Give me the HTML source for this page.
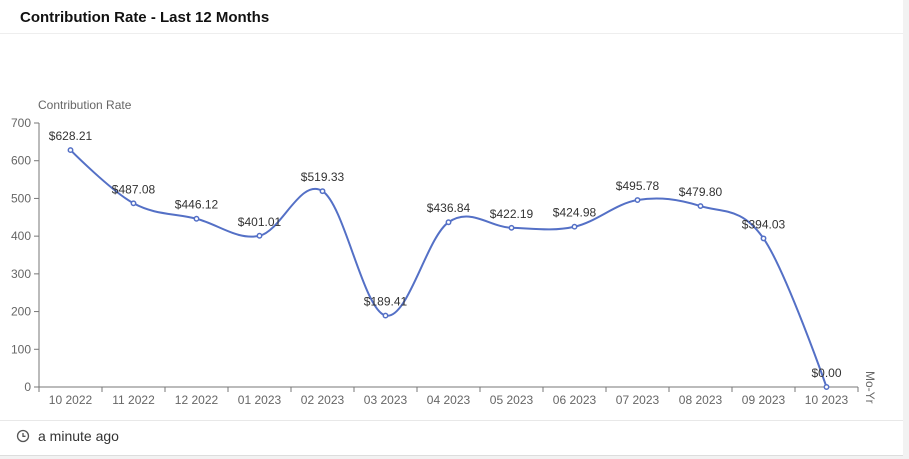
<!DOCTYPE html>
<html><head><meta charset="utf-8"><style>
body{margin:0;width:909px;height:459px;background:#f2f2f2;font-family:"Liberation Sans",sans-serif;overflow:hidden}
#card{position:absolute;left:0;top:0;width:903px;height:455px;background:#fff;border-bottom:1px solid #ddd}
#title{position:absolute;left:20px;top:9px;font-size:15px;font-weight:bold;color:#111}
#hr1{position:absolute;left:0;top:33px;width:903px;height:1px;background:#eee}
#hr2{position:absolute;left:0;top:420px;width:903px;height:1px;background:#e8e8e8}
#foot{position:absolute;left:38px;top:428px;font-size:14px;color:#333}
svg{position:absolute;left:0;top:0}
</style></head><body>
<div id="card">
<div id="title">Contribution Rate - Last 12 Months</div>
<div id="hr1"></div>
<svg width="909" height="459" id="chart"></svg>
<div id="hr2"></div>
<svg width="30" height="20" style="left:14px;top:427px"><circle cx="9" cy="9" r="5.5" fill="none" stroke="#555" stroke-width="1.3"/><path d="M9 6v3.3h2.5" fill="none" stroke="#555" stroke-width="1.3"/></svg>
<div id="foot">a minute ago</div>
</div>
<script>
const categories=["10 2022","11 2022","12 2022","01 2023","02 2023","03 2023","04 2023","05 2023","06 2023","07 2023","08 2023","09 2023","10 2023"];
const values=[628.21,487.08,446.12,401.01,519.33,189.41,436.84,422.19,424.98,495.78,479.80,394.03,0];
const yTicks=[0,100,200,300,400,500,600,700];
const svg=document.getElementById('chart');const NS='http://www.w3.org/2000/svg';
const x0=39,x1=858,y0=387,y1=123,yMax=700;
const band=(x1-x0)/categories.length;
const xs=i=>x0+band*(i+0.5);
const ys=v=>y0-(v/yMax)*(y0-y1);
function mk(t,a,txt){const e=document.createElementNS(NS,t);for(const k in a)e.setAttribute(k,a[k]);if(txt!=null)e.textContent=txt;svg.appendChild(e);return e;}
let e=mk('text',{x:38,y:109,'font-size':12,fill:'#666'},'Contribution Rate');

yTicks.forEach(t=>{const y=ys(t);
 let l=mk('line',{x1:x0-5,x2:x0,y1:y,y2:y,stroke:'#777'});
 
 let tx=mk('text',{x:x0-8,y:y+4,'font-size':12,fill:'#666','text-anchor':'end'},t);
 });
e=mk('line',{x1:x0,x2:x0,y1:y1,y2:y0,stroke:'#777'});

e=mk('line',{x1:x0,x2:x1,y1:y0,y2:y0,stroke:'#777'});

for(let i=0;i<=categories.length;i++){let l=mk('line',{x1:x0+band*i,x2:x0+band*i,y1:y0,y2:y0+5,stroke:'#777'});
 }
categories.forEach((c,i)=>{let t=mk('text',{x:xs(i),y:y0+17,'font-size':12,fill:'#666','text-anchor':'middle'},c);
 });
e=mk('text',{x:866,y:371,'font-size':12,fill:'#666',transform:'rotate(90 866 371)'},'Mo-Yr');

const P=values.map((v,i)=>[xs(i),ys(v)]);
let d='M'+P[0][0]+' '+P[0][1];const s=0.35;
for(let i=0;i<P.length-1;i++){const p0=P[Math.max(i-1,0)],p1=P[i],p2=P[i+1],p3=P[Math.min(i+2,P.length-1)];
 const c1=[p1[0]+(p2[0]-p0[0])*s/2*(i==0?0:1),p1[1]+(p2[1]-p0[1])*s/2*(i==0?0:1)];
 const c2=[p2[0]-(p3[0]-p1[0])*s/2*(i==P.length-2?0:1),p2[1]-(p3[1]-p1[1])*s/2*(i==P.length-2?0:1)];
 d+=` C${c1[0]} ${c1[1]} ${c2[0]} ${c2[1]} ${p2[0]} ${p2[1]}`;}
e=mk('path',{d:d,fill:'none',stroke:'#5470c6','stroke-width':2});

values.forEach((v,i)=>{let c=mk('circle',{cx:xs(i),cy:ys(v),r:2.2,fill:'#fff',stroke:'#5470c6','stroke-width':1.5});
 
 let t=mk('text',{x:xs(i),y:ys(v)-10,'font-size':12,fill:'#333','text-anchor':'middle'},'$'+v.toFixed(2));
 });
</script>
</body></html>
